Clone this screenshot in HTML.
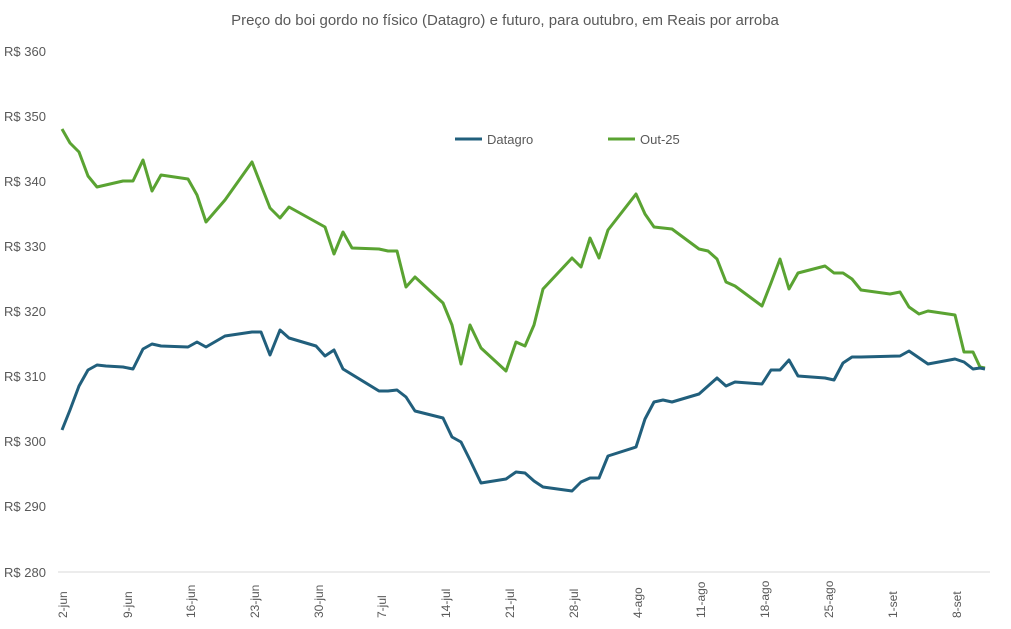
<!DOCTYPE html>
<html><head><meta charset="utf-8"><style>
body{margin:0;background:#fff;}
svg{display:block;font-family:"Liberation Sans",sans-serif;}
</style></head><body>
<svg width="1011" height="629" viewBox="0 0 1011 629">
<rect width="1011" height="629" fill="#fff"/>
<text x="505" y="25" text-anchor="middle" font-size="15" fill="#595959">Preço do boi gordo no físico (Datagro) e futuro, para outubro, em Reais por arroba</text>
<g font-size="13" fill="#595959">
<text x="4" y="56">R$ 360</text>
<text x="4" y="121">R$ 350</text>
<text x="4" y="186">R$ 340</text>
<text x="4" y="251">R$ 330</text>
<text x="4" y="316">R$ 320</text>
<text x="4" y="381">R$ 310</text>
<text x="4" y="446">R$ 300</text>
<text x="4" y="511">R$ 290</text>
<text x="4" y="577">R$ 280</text>
</g>
<line x1="58" y1="572" x2="990" y2="572" stroke="#d9d9d9" stroke-width="1"/>
<g font-size="12" fill="#595959">
<text transform="translate(67,618) rotate(-90)">2-jun</text>
<text transform="translate(132,618) rotate(-90)">9-jun</text>
<text transform="translate(195,618) rotate(-90)">16-jun</text>
<text transform="translate(259,618) rotate(-90)">23-jun</text>
<text transform="translate(323,618) rotate(-90)">30-jun</text>
<text transform="translate(386,618) rotate(-90)">7-jul</text>
<text transform="translate(450,618) rotate(-90)">14-jul</text>
<text transform="translate(514,618) rotate(-90)">21-jul</text>
<text transform="translate(578,618) rotate(-90)">28-jul</text>
<text transform="translate(642,618) rotate(-90)">4-ago</text>
<text transform="translate(705,618) rotate(-90)">11-ago</text>
<text transform="translate(769,618) rotate(-90)">18-ago</text>
<text transform="translate(833,618) rotate(-90)">25-ago</text>
<text transform="translate(897,618) rotate(-90)">1-set</text>
<text transform="translate(961,618) rotate(-90)">8-set</text>
</g>
<polyline fill="none" stroke="#5aa332" stroke-width="3" stroke-linejoin="round" points="62,129 70,143 79,152 88,176 97,187 123,181 133,181 143,160 152,191 161,175 188,179 197,195 206,222 225,200 252,162 270,208 280,218 289,207 325,227 334,254 343,232 352,248 379,249 388,251 397,251 406,287 415,277 443,303 452,325 461,364 470,325 481,348 506,371 516,342 525,346 534,325 543,289 572,258 581,267 590,238 599,258 608,230 636,194 645,214 654,227 663,228 672,229 699,249 708,251 717,259 726,282 735,286 762,306 771,283 780,259 789,289 798,273 825,266 834,273 843,273 852,279 861,290 890,294 900,292 909,307 919,314 928,311 955,315 964,352 973,352 980,367 985,368"/>
<polyline fill="none" stroke="#215f7c" stroke-width="3" stroke-linejoin="round" points="62,430 70,410 79,386 88,370 97,365 106,366 123,367 133,369 143,349 152,344 161,346 188,347 197,342 206,347 225,336 252,332 261,332 270,355 280,330 289,338 316,346 325,356 334,350 343,369 379,391 388,391 397,390 406,397 415,411 443,418 452,437 461,442 470,460 481,483 506,479 516,472 525,473 534,481 543,487 572,491 581,482 590,478 599,478 608,456 636,447 645,419 654,402 663,400 672,402 699,394 708,386 717,378 726,386 735,382 762,384 771,370 780,370 789,360 798,376 825,378 834,380 843,363 852,357 861,357 900,356 909,351 928,364 955,359 964,362 973,369 980,368 985,369"/>
<line x1="455" y1="139" x2="482" y2="139" stroke="#215f7c" stroke-width="3"/>
<text x="487" y="144" font-size="13" fill="#595959">Datagro</text>
<line x1="608" y1="139" x2="635" y2="139" stroke="#5aa332" stroke-width="3"/>
<text x="640" y="144" font-size="13" fill="#595959">Out-25</text>
</svg>
</body></html>
